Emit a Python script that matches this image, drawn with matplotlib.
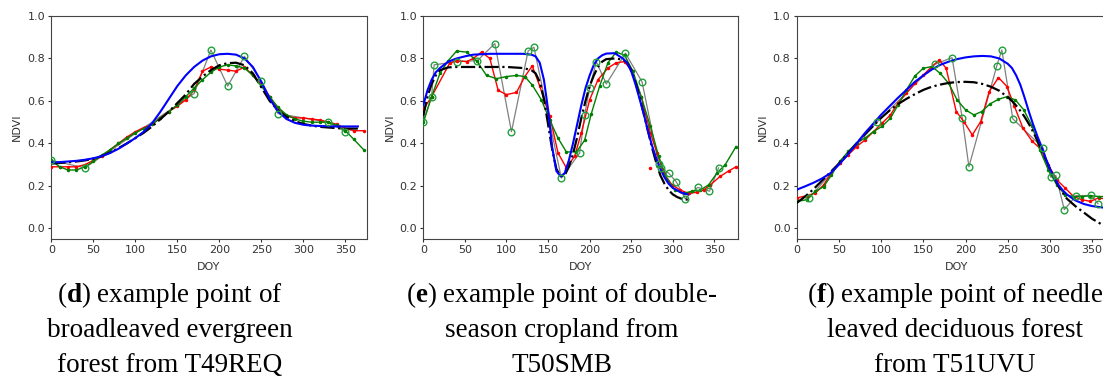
import matplotlib
matplotlib.use("Agg")
import matplotlib.pyplot as plt
import numpy as np

plt.rcParams['mathtext.fontset'] = 'custom'
plt.rcParams['mathtext.rm'] = 'Liberation Serif'
plt.rcParams['mathtext.bf'] = 'Liberation Serif:bold'

# ---------------- panel (d) ----------------
d_fit_doy = [0, 10, 20, 30, 40, 50, 60, 70, 80, 90, 100, 110, 120, 130, 140, 150, 160, 170, 180,
             190, 200, 210, 220, 230, 240, 250, 260, 270, 280, 290, 300, 310, 320, 330, 340, 350, 365]
d_blue = [0.310, 0.312, 0.315, 0.318, 0.323, 0.330, 0.340, 0.355, 0.375, 0.400, 0.425, 0.455, 0.495,
          0.550, 0.610, 0.670, 0.720, 0.760, 0.790, 0.810, 0.820, 0.822, 0.818, 0.800, 0.760, 0.690,
          0.610, 0.550, 0.515, 0.497, 0.488, 0.484, 0.482, 0.481, 0.480, 0.480, 0.480]
d_black = [0.305, 0.308, 0.311, 0.315, 0.320, 0.328, 0.340, 0.357, 0.378, 0.400, 0.425, 0.450, 0.480,
           0.515, 0.550, 0.590, 0.630, 0.680, 0.715, 0.745, 0.768, 0.778, 0.780, 0.768, 0.730, 0.665,
           0.600, 0.555, 0.525, 0.505, 0.492, 0.484, 0.478, 0.475, 0.472, 0.470, 0.470]
d_obs_doy = [0, 10, 20, 30, 40, 50, 60, 70, 80, 90, 100, 110, 120, 130, 140, 150, 160, 170, 180, 190,
             200, 210, 220, 230, 240, 250, 260, 270, 280, 290, 300, 310, 320, 330, 340, 350, 360, 372]
d_red = [0.29, 0.29, 0.29, 0.29, 0.30, 0.32, 0.34, 0.37, 0.40, 0.43, 0.455, 0.475, 0.49, 0.52, 0.55,
         0.575, 0.605, 0.65, 0.74, 0.76, 0.75, 0.745, 0.74, 0.76, 0.72, 0.68, 0.62, 0.56, 0.53, 0.52,
         0.52, 0.515, 0.51, 0.50, 0.49, 0.47, 0.46, 0.46]
d_green = [0.32, 0.29, 0.275, 0.275, 0.29, 0.315, 0.345, 0.37, 0.40, 0.425, 0.45, 0.47, 0.49, 0.52,
           0.55, 0.58, 0.62, 0.66, 0.70, 0.735, 0.76, 0.77, 0.765, 0.755, 0.72, 0.67, 0.62, 0.57,
           0.535, 0.515, 0.505, 0.50, 0.50, 0.50, 0.485, 0.46, 0.42, 0.37]
d_raw_doy = [0, 40, 170, 190, 210, 230, 250, 270, 330, 350]
d_raw = [0.32, 0.285, 0.635, 0.84, 0.67, 0.81, 0.695, 0.54, 0.50, 0.455]

# ---------------- panel (e) ----------------
e_fit_doy = [0, 5, 10, 15, 20, 30, 40, 50, 60, 80, 100, 120, 130, 135, 140, 145, 150, 155, 160, 165,
             170, 175, 180, 185, 190, 195, 200, 205, 210, 215, 220, 230, 240, 245, 250, 255, 260, 265,
             270, 275, 280, 285, 290, 295, 300, 305, 310, 318]
e_blue = [0.58, 0.65, 0.70, 0.735, 0.755, 0.785, 0.80, 0.81, 0.818, 0.822, 0.822, 0.822, 0.818, 0.81,
          0.78, 0.70, 0.56, 0.38, 0.27, 0.245, 0.26, 0.32, 0.40, 0.49, 0.58, 0.66, 0.72, 0.77, 0.80,
          0.815, 0.823, 0.825, 0.80, 0.78, 0.74, 0.68, 0.61, 0.54, 0.46, 0.39, 0.33, 0.28, 0.24, 0.21,
          0.19, 0.18, 0.168, 0.16]
e_black = [0.53, 0.62, 0.68, 0.72, 0.745, 0.758, 0.76, 0.76, 0.76, 0.76, 0.76, 0.755, 0.745, 0.73,
           0.69, 0.61, 0.49, 0.37, 0.28, 0.245, 0.25, 0.29, 0.35, 0.43, 0.52, 0.60, 0.67, 0.72, 0.76,
           0.785, 0.797, 0.80, 0.795, 0.78, 0.745, 0.69, 0.62, 0.54, 0.46, 0.38, 0.31, 0.25, 0.21,
           0.18, 0.16, 0.148, 0.14, 0.135]
e_red_doy = [0, 10, 32, 41, 52, 60, 70, 80, 90, 100, 112, 122, 131, 140, 152, 162, 172, 182, 190, 200,
             210, 222, 232, 242, 250, 262, 273, 281, 289, 299, 309, 319, 329, 337, 345, 357, 367, 376]
e_red = [0.56, 0.62, 0.78, 0.79, 0.785, 0.80, 0.83, 0.80, 0.65, 0.63, 0.64, 0.715, 0.765, 0.67, 0.53,
         0.355, 0.285, 0.34, 0.45, 0.605, 0.70, 0.755, 0.78, 0.785, 0.745, 0.62, 0.45, 0.355, 0.26,
         0.205, 0.18, 0.165, 0.17, 0.18, 0.205, 0.245, 0.27, 0.29]
e_red_outlier_doy = [273]
e_red_outlier = [0.285]
e_green_doy = [0, 10, 20, 30, 40, 52, 64, 76, 88, 100, 112, 122, 131, 142, 152, 162, 172, 184, 194,
               202, 212, 222, 232, 242, 252, 262, 273, 283, 293, 303, 313, 323, 333, 343, 353, 363, 376]
e_green = [0.50, 0.62, 0.73, 0.79, 0.835, 0.83, 0.79, 0.72, 0.705, 0.715, 0.72, 0.715, 0.675, 0.605,
           0.51, 0.425, 0.36, 0.36, 0.415, 0.54, 0.67, 0.78, 0.83, 0.815, 0.74, 0.62, 0.48, 0.34,
           0.23, 0.18, 0.165, 0.175, 0.18, 0.205, 0.26, 0.30, 0.385]
e_raw_doy = [0, 10, 13, 41, 65, 86, 106, 126, 133, 166, 188, 194, 200, 208, 220, 243, 263, 283, 286,
             295, 304, 315, 330, 344, 355]
e_raw = [0.50, 0.62, 0.77, 0.785, 0.79, 0.87, 0.455, 0.835, 0.853, 0.237, 0.355, 0.535, 0.66, 0.785,
         0.68, 0.825, 0.69, 0.305, 0.285, 0.26, 0.22, 0.14, 0.193, 0.175, 0.285]

# ---------------- panel (f) ----------------
f_fit_doy = [0, 10, 20, 30, 40, 50, 60, 70, 80, 90, 100, 110, 120, 130, 140, 150, 160, 170, 180, 190,
             200, 210, 220, 230, 240, 250, 255, 260, 265, 270, 275, 280, 285, 290, 295, 300, 305, 310,
             315, 320, 330, 340, 350, 365, 378]
f_blue = [0.182, 0.198, 0.215, 0.235, 0.26, 0.30, 0.345, 0.395, 0.445, 0.49, 0.535, 0.575, 0.615,
          0.652, 0.69, 0.72, 0.748, 0.77, 0.785, 0.797, 0.805, 0.81, 0.812, 0.81, 0.80, 0.775, 0.755,
          0.72, 0.675, 0.615, 0.55, 0.49, 0.435, 0.385, 0.33, 0.28, 0.24, 0.205, 0.18, 0.16, 0.132,
          0.115, 0.105, 0.097, 0.094]
f_black = [0.12, 0.15, 0.185, 0.225, 0.265, 0.305, 0.35, 0.395, 0.44, 0.48, 0.52, 0.555, 0.585, 0.61,
           0.632, 0.652, 0.667, 0.677, 0.685, 0.689, 0.69, 0.688, 0.68, 0.667, 0.648, 0.618, 0.60,
           0.578, 0.553, 0.525, 0.492, 0.455, 0.415, 0.37, 0.325, 0.28, 0.24, 0.20, 0.168, 0.14,
           0.105, 0.075, 0.045, 0.01, -0.015]
f_red_doy = [0, 12, 22, 32, 41, 51, 61, 71, 81, 91, 101, 111, 120, 130, 140, 150, 160, 169, 177, 189,
             198, 208, 218, 228, 239, 249, 258, 268, 279, 288, 298, 308, 318, 328, 338, 348, 358, 368]
f_red = [0.143, 0.154, 0.166, 0.205, 0.26, 0.307, 0.346, 0.385, 0.417, 0.456, 0.495, 0.534, 0.59,
         0.636, 0.683, 0.722, 0.762, 0.793, 0.754, 0.55, 0.503, 0.44, 0.503, 0.644, 0.71, 0.668,
         0.574, 0.472, 0.41, 0.378, 0.30, 0.229, 0.19, 0.15, 0.135, 0.127, 0.145, 0.135]
f_green_doy = [0, 12, 22, 32, 41, 51, 61, 71, 81, 91, 101, 111, 120, 130, 140, 150, 160, 170, 180, 190,
               200, 210, 219, 229, 239, 249, 259, 269, 279, 288, 298, 308, 318, 328, 338, 348, 358, 368]
f_green = [0.127, 0.135, 0.174, 0.197, 0.25, 0.315, 0.362, 0.404, 0.425, 0.456, 0.48, 0.519, 0.58,
           0.652, 0.718, 0.754, 0.762, 0.73, 0.683, 0.605, 0.558, 0.534, 0.55, 0.586, 0.608, 0.62,
           0.605, 0.558, 0.48, 0.37, 0.276, 0.205, 0.158, 0.15, 0.15, 0.154, 0.15, 0.15]
f_raw_doy = [14, 95, 164, 184, 196, 204, 237, 243, 256, 292, 301, 307, 317, 331, 349, 357]
f_raw = [0.141, 0.50, 0.773, 0.804, 0.522, 0.29, 0.765, 0.84, 0.516, 0.378, 0.241, 0.249, 0.088,
         0.154, 0.155, 0.116]

captions = [
    [r'($\mathbf{d}$) example point of', 'broadleaved evergreen', 'forest from T49REQ'],
    [r'($\mathbf{e}$) example point of double-', 'season cropland from', 'T50SMB'],
    [r'($\mathbf{f}$) example point of needle', 'leaved deciduous forest', 'from T51UVU'],
]

panels = [
    (d_fit_doy, d_blue, d_black, d_obs_doy, d_red, d_obs_doy, d_green, d_raw_doy, d_raw),
    (e_fit_doy, e_blue, e_black, e_red_doy, e_red, e_green_doy, e_green, e_raw_doy, e_raw),
    (f_fit_doy, f_blue, f_black, f_red_doy, f_red, f_green_doy, f_green, f_raw_doy, f_raw),
]

W, H = 1103, 376
fig = plt.figure(figsize=(W / 100, H / 100), dpi=100)

# axes boxes in pixels: left, right, top, bottom ; xlim right ; caption centre x
boxes = [(51.3, 366.7, 16, 239, 375.5, 170),
         (423.3, 737.7, 16, 239, 378, 562),
         (796.7, 1115.8, 16, 239, 378, 955)]

for i, (box, p) in enumerate(zip(boxes, panels)):
    l, r, t, b, xr, cx = box
    ax = fig.add_axes([l / W, (H - b) / H, (r - l) / W, (b - t) / H])
    fit_doy, blue, black, red_doy, red, green_doy, green, raw_doy, raw = p

    ax.plot(raw_doy, raw, color='gray', lw=0.9, zorder=2)
    ax.plot(red_doy, red, color='r', lw=1.0, marker='.', ms=3, zorder=3)
    ax.plot(green_doy, green, color='g', lw=1.0, marker='.', ms=3, zorder=3)
    ax.plot(fit_doy, black, color='k', lw=1.6, ls='-.', zorder=4)
    ax.plot(fit_doy, blue, color='b', lw=1.5, zorder=5)
    ax.plot(raw_doy, raw, ls='none', marker='o', ms=4.8, mfc='none', mec='#22a03c', mew=1.0, zorder=6)
    if i == 1:
        ax.plot(e_red_outlier_doy, e_red_outlier, ls='none', marker='.', ms=3, color='r')

    ax.set_xlim(0, xr)
    ax.set_ylim(-0.05, 1.0)
    ax.set_xticks(np.arange(0, 351, 50))
    ax.set_yticks(np.arange(0, 1.01, 0.2))
    ax.set_yticklabels(['0.0', '0.2', '0.4', '0.6', '0.8', '1.0'])
    ax.tick_params(labelsize=8, length=2.5, width=0.8, pad=2, colors='#333333')
    for s in ax.spines.values():
        s.set_linewidth(0.8)
        s.set_color('#444444')
    ax.set_xlabel('DOY', fontsize=8, color='#333333')
    ax.set_ylabel('NDVI', fontsize=8, color='#333333')
    ax.xaxis.set_label_coords(0.5, -0.125)
    ax.xaxis.label.set_va('center')
    ax.yaxis.set_label_coords((17 - l) / (r - l) if i == 0 else -0.107, 0.5)
    ax.yaxis.label.set_va('center')

    for k, line in enumerate(captions[i]):
        fig.text(cx / W, (H - (301.7 + 35 * k)) / H, line, ha='center', va='baseline',
                 fontsize=19.5, family='Liberation Serif', color='black')

fig.savefig('out.png', dpi=100)
